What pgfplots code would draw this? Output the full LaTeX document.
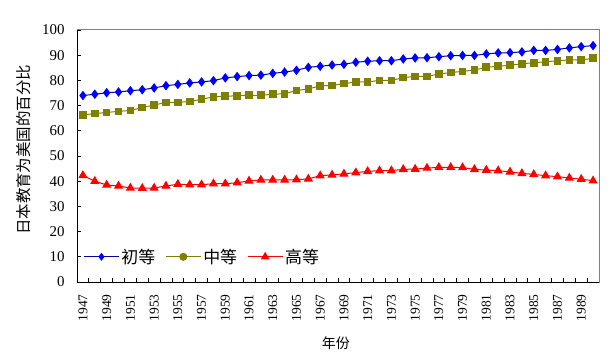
\documentclass[border=0pt]{standalone}
\usepackage{fontspec}
\setmainfont{Liberation Serif}
\newfontfamily\cjk{Noto Sans CJK SC}
\usepackage{pgfplots}
\usepackage{pgfplotstable}
\pgfplotsset{compat=1.18}
\definecolor{cblue}{HTML}{0000FF}
\definecolor{cnavy}{HTML}{0000A0}
\definecolor{colive}{HTML}{808000}
\definecolor{cred}{HTML}{FF0000}
\pgfplotstableread{
year P S H
1947 74.0 66.3 42.3
1948 74.5 66.8 40.0
1949 75.1 67.3 38.5
1950 75.4 67.7 38.1
1951 75.9 68.1 37.3
1952 76.3 69.2 37.2
1953 77.0 70.2 37.3
1954 77.9 71.3 38.1
1955 78.4 71.3 38.8
1956 79.0 71.6 38.6
1957 79.4 72.5 38.6
1958 79.9 73.5 39.0
1959 81.0 73.7 39.0
1960 81.5 73.9 39.4
1961 81.9 74.1 40.1
1962 82.1 74.1 40.5
1963 82.8 74.5 40.5
1964 83.3 74.7 40.5
1965 84.0 76.0 40.6
1966 85.2 76.6 40.9
1967 85.6 77.8 42.2
1968 86.1 78.0 42.5
1969 86.4 78.7 42.9
1970 87.2 79.4 43.4
1971 87.6 79.4 43.9
1972 87.8 80.0 44.2
1973 87.8 80.0 44.2
1974 88.5 81.1 44.7
1975 88.9 81.6 44.8
1976 89.0 81.6 45.2
1977 89.4 82.5 45.5
1978 89.8 83.1 45.5
1979 89.9 83.6 45.4
1980 89.9 84.1 44.7
1981 90.5 85.2 44.4
1982 90.9 85.6 44.2
1983 91.0 86.0 43.7
1984 91.3 86.6 43.1
1985 91.9 87.0 42.7
1986 91.9 87.4 42.2
1987 92.3 87.8 41.8
1988 92.9 88.1 41.3
1989 93.4 88.1 40.8
1990 93.8 88.8 40.2
}\datatable
\begin{document}
\begin{tikzpicture}
\path[use as bounding box] (0,0) rectangle (614bp,359bp);
\begin{axis}[
  at={(77bp,77bp)}, anchor=south west,
  scale only axis, width=522bp, height=252bp,
  xmin=1946.5, xmax=1990.5, ymin=0, ymax=100,
  ytick={0,10,...,100},
  xtick={1947,1949,...,1989},
  minor xtick={1946.5,1947.5,...,1990.5},
  major x tick style={draw=none},
  minor tick length=4bp, major tick length=4bp,
  tick align=inside,
  xtick pos=bottom, ytick pos=left,
  tick style={black, line width=0.8bp},
  axis line style={draw=gray, line width=1bp},
  /pgf/number format/assume math mode=true,
  /pgf/number format/1000 sep={},
  yticklabel style={font=\fontsize{15}{16}\selectfont, anchor=east, xshift=-9bp},
  xticklabel style={font=\fontsize{13.5}{15}\selectfont, rotate=90, anchor=east, yshift=0bp, xshift=-9bp},
  xlabel={\cjk 年份},
  xlabel style={font=\fontsize{14}{16}\selectfont, at={(axis description cs:0.496,-0.242)}, anchor=center},
  ylabel={\cjk 日本教育为美国的百分比},
  ylabel style={font=\fontsize{15.5}{17}\selectfont, at={(axis description cs:-0.1015,0.524)}, anchor=center, rotate=0},
  legend columns=3,
  legend style={at={(axis description cs:0.012,0.1)}, anchor=west, draw=none, fill=none,
    font=\fontsize{17}{19}\selectfont\cjk, inner sep=0pt,
    /tikz/every even column/.append style={column sep=8bp}},
  legend image code/.code={\draw[mark repeat=2,mark phase=2] plot coordinates {(0bp,0bp) (17.5bp,0bp) (35bp,0bp)};},
  clip=false,
]
\addplot[cnavy, line width=1bp, mark=diamond*, mark size=4bp, mark options={fill=cblue, draw=cblue, solid}, legend image post style={mark size=3.2bp}] table[x=year, y=P] {\datatable};
\addlegendentry{初等}
\addplot[colive, line width=1bp, mark=square*, mark size=3.3bp, mark options={fill=colive, draw=colive, solid}, legend image post style={mark=*, mark size=3.5bp}] table[x=year, y=S] {\datatable};
\addlegendentry{中等}
\addplot[cred, line width=1bp, mark=triangle*, mark size=4.3bp, mark options={fill=cred, draw=cred, solid}, legend image post style={mark size=4bp}] table[x=year, y=H] {\datatable};
\addlegendentry{高等}
\draw[black, line width=1bp] (rel axis cs:0,1) -- (rel axis cs:0,0) -- (rel axis cs:1,0);
\end{axis}
\end{tikzpicture}
\end{document}
